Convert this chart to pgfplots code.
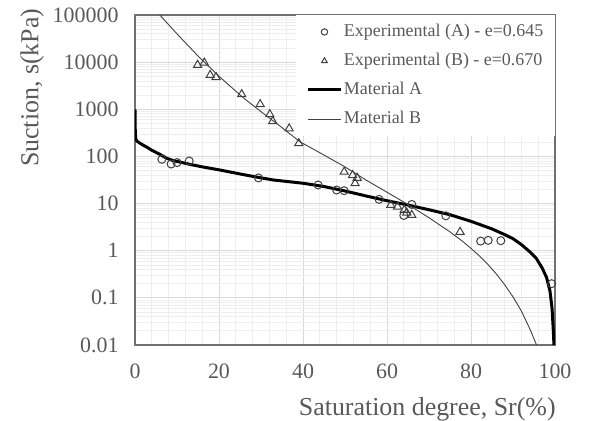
\documentclass[border=0pt]{standalone}
\usepackage{fontspec}
\setmainfont{Liberation Serif}
\usepackage{pgfplots}
\pgfplotsset{compat=1.18}
\definecolor{txt}{HTML}{595959}
\definecolor{majgrid}{HTML}{D9D9D9}
\definecolor{mingrid}{HTML}{EEEEEE}
\definecolor{frame}{HTML}{707070}
\definecolor{mk}{HTML}{404040}
\begin{document}
\begin{tikzpicture}
\begin{axis}[name=ax, scale only axis, width=420bp, height=330bp,
  xmin=0, xmax=100, ymode=log, ymin=0.01, ymax=100000,
  xtick={0,20,...,100}, xticklabels={0,20,40,60,80,100}, minor x tick num=4,
  ytick={0.01,0.1,1,10,100,1000,10000,100000},
  yticklabels={0.01,0.1,1,10,100,1000,10000,100000},
  grid=both,
  major grid style={majgrid, line width=0.8pt},
  minor grid style={mingrid, line width=0.8pt},
  axis line style={frame, line width=1.2pt},
  major tick length=0pt, minor tick length=0pt,
  tick label style={font=\fontsize{22}{26}\selectfont, text=txt},
  xticklabel style={yshift=-15bp}, yticklabel style={xshift=-13bp},
  /pgf/number format/assume math mode=true,
  xlabel={Saturation degree, Sr(\%)}, ylabel={Suction, s(kPa)},
  label style={font=\fontsize{26}{31}\selectfont, text=txt},
  xlabel style={at={(axis description cs:1.01,-0.15)}, anchor=north east},
  ylabel style={at={(axis description cs:-0.245,1.03)}, anchor=east},
  legend style={at={(axis description cs:1,1)}, anchor=north east, fill=white, draw=none,
    font=\fontsize{18}{21}\selectfont, text=txt, inner xsep=10bp, inner ysep=5bp, row sep=5.5bp,
    nodes={inner xsep=1.5bp, inner ysep=3bp, text height=13bp, text depth=4.5bp}},
  legend cell align=left,
  legend image code/.code={\draw[mark repeat=2,mark phase=2,#1] plot coordinates {(0bp,0bp) (16.5bp,0bp) (33bp,0bp)};},
  legend image post style={mark size=3.2bp},
]
% experimental points, material A (e=0.645)
\addplot[only marks, mark=o, mark size=4bp, mk, line width=1pt] coordinates {
  (6.4,87) (8.6,69) (10.0,74) (12.9,80) (29.4,35) (43.6,24.8) (48.0,19.4) (49.8,18.8)
  (58.1,12.3) (64.0,5.6) (65.9,9.6) (74.0,5.5) (82.3,1.6) (84.1,1.66) (87.1,1.63) (99.2,0.2)
};
\addlegendentry{Experimental (A) - e=0.645}
% experimental points, material B (e=0.670)
\addplot[only marks, mark=triangle, mark size=4.7bp, mk, line width=1pt] coordinates {
  (14.9,8700) (16.5,9700) (17.9,5300) (19.3,4800) (25.4,2080) (29.8,1280) (32.1,780)
  (32.8,560) (36.7,390) (39.0,190) (49.8,47) (51.8,40) (52.9,35) (52.4,27) (60.9,9.3)
  (62.5,8.6) (64.1,7.3) (64.7,6.4) (65.9,5.7) (77.4,2.5)
};
\addlegendentry{Experimental (B) - e=0.670}
% fitted curves
\addplot[black, line width=3pt, no marks] coordinates {
  (0,1000) (0.03,450) (0.1,300) (0.2,230) (0.5,210) (1,195) (2,172) (2.7,160) (4,135)
  (5.9,111) (7.5,92) (9,82) (11,75) (13,68) (16.5,59) (20,52) (25,42.5) (29.3,36)
  (33,31.6) (40,27) (45,23) (50,18.5) (55,14.5) (60,11.5) (65,9.3) (70,7.4) (75,5.8)
  (80,4.2) (85,2.9) (88,2.2) (90,1.8) (92,1.35) (94,0.95) (95.5,0.7) (97,0.42) (98,0.27)
  (98.8,0.14) (99.3,0.06) (99.6,0.02) (99.75,0.01)
};
\addlegendentry{Material A}
\addplot[mk, line width=0.9pt, no marks] coordinates {
  (5.9,100000) (10,39800) (15,13500) (20,5010) (25.7,1780) (30,891) (34.5,442) (39.3,204)
  (45,107) (50,60) (55,31.6) (60,17.4) (65,9.55) (70,5.0) (75,2.51) (78,1.58)
  (80,1.12) (82,0.776) (84,0.513) (86,0.324) (88,0.191) (90,0.105) (92,0.0525)
  (93.5,0.0275) (94.5,0.0174) (95.6,0.01)
};
\addlegendentry{Material B}
\end{axis}
\pgfresetboundingbox
\path[use as bounding box] ([xshift=-135bp,yshift=-76bp]ax.south west) rectangle ([xshift=36bp,yshift=15bp]ax.north east);
\end{tikzpicture}
\end{document}
